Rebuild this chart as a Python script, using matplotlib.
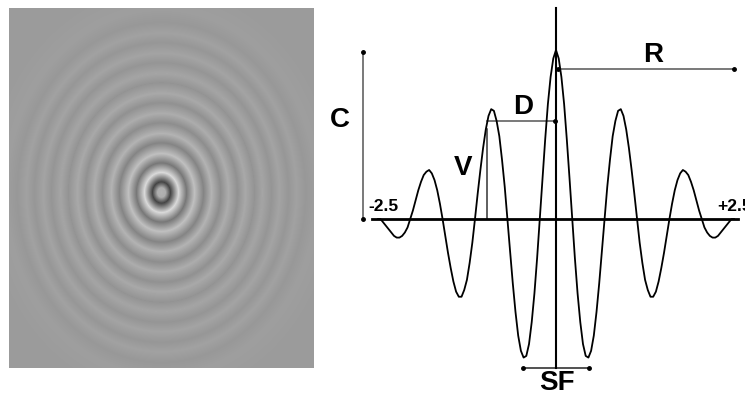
import matplotlib
matplotlib.use("Agg")
import matplotlib.pyplot as plt
import numpy as np

# radial luminance profile of the ring image (radius in px, gray 0..1)
ring_radius = [0, 4, 9, 17, 25, 33, 42, 50, 59, 67, 76, 84, 93, 101, 110,
               118, 127, 135, 144, 155, 175, 260]
ring_gray = [0.70, 0.68, 0.27, 0.85, 0.47, 0.75, 0.52, 0.70, 0.555, 0.675,
             0.57, 0.66, 0.58, 0.645, 0.585, 0.64, 0.59, 0.632, 0.595, 0.62,
             0.608, 0.608]

# luminance profile shown on the right (position vs. relative contrast)
profile_x = [-2.5, -2.465, -2.427, -2.389, -2.351, -2.313, -2.275, -2.237,
             -2.199, -2.161, -2.123, -2.085, -2.048, -2.010, -1.972, -1.934,
             -1.896, -1.858, -1.820, -1.782, -1.744, -1.706, -1.668, -1.630,
             -1.593, -1.555, -1.517, -1.479, -1.441, -1.403, -1.365, -1.327,
             -1.289, -1.251, -1.213, -1.175, -1.138, -1.100, -1.062, -1.024,
             -0.986, -0.948, -0.910, -0.872, -0.834, -0.796, -0.758, -0.720,
             -0.683, -0.645, -0.607, -0.569, -0.531, -0.493, -0.455, -0.417,
             -0.379, -0.341, -0.303, -0.265, -0.228, -0.190, -0.152, -0.114,
             -0.076, -0.038,
             0.0,
             0.038, 0.076, 0.114, 0.152, 0.190, 0.228, 0.265, 0.303, 0.341,
             0.379, 0.417, 0.455, 0.493, 0.531, 0.569, 0.607, 0.645, 0.683,
             0.720, 0.758, 0.796, 0.834, 0.872, 0.910, 0.948, 0.986, 1.024,
             1.062, 1.100, 1.138, 1.175, 1.213, 1.251, 1.289, 1.327, 1.365,
             1.403, 1.441, 1.479, 1.517, 1.555, 1.593, 1.630, 1.668, 1.706,
             1.744, 1.782, 1.820, 1.858, 1.896, 1.934, 1.972, 2.010, 2.048,
             2.085, 2.123, 2.161, 2.199, 2.237, 2.275, 2.313, 2.351, 2.389,
             2.427, 2.465, 2.5]
profile_y = [0, 0, -0.02, -0.04, -0.06, -0.08, -0.10, -0.11, -0.11, -0.10,
             -0.08, -0.05, 0, 0.05, 0.11, 0.17, 0.22, 0.26, 0.28, 0.29,
             0.27, 0.23, 0.17, 0.09, 0, -0.10, -0.20, -0.29, -0.37, -0.43,
             -0.46, -0.46, -0.42, -0.36, -0.26, -0.14, 0, 0.15, 0.29, 0.42,
             0.53, 0.61, 0.65, 0.64, 0.58, 0.49, 0.35, 0.19, 0, -0.19,
             -0.38, -0.55, -0.69, -0.78, -0.82, -0.81, -0.74, -0.61, -0.44,
             -0.23, 0, 0.24, 0.47, 0.68, 0.84, 0.95,
             1.00,
             0.95, 0.84, 0.68, 0.47, 0.24, 0, -0.23, -0.44, -0.61, -0.74,
             -0.81, -0.82, -0.78, -0.69, -0.55, -0.38, -0.19, 0, 0.19, 0.35,
             0.49, 0.58, 0.64, 0.65, 0.61, 0.53, 0.42, 0.29, 0.15, 0,
             -0.14, -0.26, -0.36, -0.42, -0.46, -0.46, -0.43, -0.37, -0.29,
             -0.20, -0.10, 0, 0.09, 0.17, 0.23, 0.27, 0.29, 0.28, 0.26, 0.22,
             0.17, 0.11, 0.05, 0, -0.05, -0.08, -0.10, -0.11, -0.11, -0.10,
             -0.08, -0.06, -0.04, -0.02, 0, 0]

x_ticks = [-2.5, 2.5]
x_tick_labels = ["-2.5", "+2.5"]

W, H = 745, 398
fig = plt.figure(figsize=(W / 100, H / 100), dpi=100)
fig.patch.set_facecolor("white")

# --- left: ring stimulus image ---
ax_img = fig.add_axes([9 / W, (H - 368) / H, 305 / W, 360 / H])
rows, cols = np.mgrid[0:360, 0:305]
r = np.hypot(cols - 152.0, (rows - 184.0) / 1.18)
img = np.interp(r, ring_radius, ring_gray)
ax_img.imshow(img, cmap="gray", vmin=0, vmax=1, aspect="auto",
              interpolation="bilinear")
ax_img.axis("off")

# --- right: luminance profile diagram ---
# pixel mapping: x_px = 556 + 71.2*x, y_px = 219 - 169*y
ax = fig.add_axes([330 / W, 0, 415 / W, 1])
ax.set_xlim((330 - 556) / 71.2, (745 - 556) / 71.2)
ax.set_ylim((219 - 398) / 169, 219 / 169)
ax.axis("off")

ax.plot(profile_x, profile_y, color="black", lw=1.3, zorder=3)
ax.plot([-2.584, 2.556], [0, 0], color="black", lw=2.0, zorder=4)
ax.plot([0, 0], [-0.882, 1.249], color="black", lw=1.5, zorder=4)

gray = "#555555"
dot = dict(marker="o", ms=2.5, color="black", ls="none", zorder=5)

# C: contrast
ax.plot([-2.71, -2.71], [0, 0.988], color=gray, lw=1.1)
ax.plot([-2.71, -2.71], [0, 0.988], **dot)
# R: reference peak line
ax.plot([0.03, 2.5], [0.885, 0.885], color=gray, lw=1.1)
ax.plot([0.03, 2.5], [0.885, 0.885], **dot)
# D: distance between peaks
ax.plot([-0.97, -0.01], [0.58, 0.58], color=gray, lw=1.1)
ax.plot([-0.01], [0.58], **dot)
# V: second peak height
ax.plot([-0.97, -0.97], [0, 0.53], color="#333333", lw=1.1)
# SF: spatial frequency
ax.plot([-0.46, 0.46], [-0.882, -0.882], color="#222222", lw=1.1)
ax.plot([-0.46, 0.46], [-0.882, -0.882], **dot)

font = dict(family=["Liberation Sans", "DejaVu Sans"], fontweight="bold",
            color="black")
ax.text(-3.03, 0.586, "C", fontsize=20, ha="center", va="center", **font)
ax.text(1.36, 0.97, "R", fontsize=20, ha="center", va="center", **font)
ax.text(-0.46, 0.66, "D", fontsize=20, ha="center", va="center", **font)
ax.text(-1.31, 0.30, "V", fontsize=20, ha="center", va="center", **font)
ax.text(0.01, -0.968, "SF", fontsize=20, ha="center", va="center", **font)
ax.text(-2.634, 0.05, x_tick_labels[0], fontsize=12.5, ha="left",
        va="baseline", **font)
ax.text(x_ticks[1] - 0.24, 0.05, x_tick_labels[1], fontsize=12.5, ha="left",
        va="baseline", clip_on=False, **font)

fig.savefig("out.png", dpi=100, facecolor="white")
